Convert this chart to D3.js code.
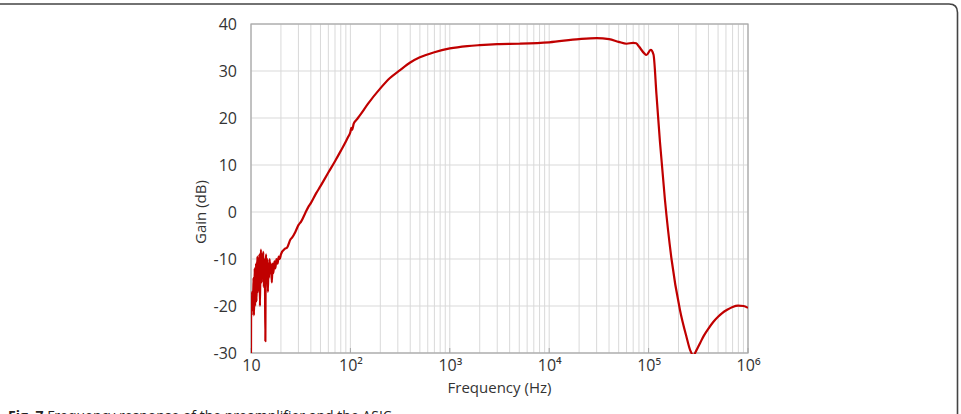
<!DOCTYPE html>
<html>
<head>
<meta charset="utf-8">
<script src="https://cdn.jsdelivr.net/npm/d3@7"></script>
<style>
  body { margin: 0; background: #fff; }
  svg { display: block; font-family: "Open Sans", "Noto Sans", sans-serif; }
</style>
</head>
<body>
<div id="chart-area"></div>
<script>
// Frequency (Hz) and gain (dB)
var freq = [10, 10.05, 10.15, 10.25, 10.35, 10.5, 10.6, 10.7, 10.8, 10.9,
    11.0, 11.1, 11.25, 11.35, 11.5, 11.6, 11.75, 11.9, 12.0, 12.15,
    12.3, 12.45, 12.6, 12.8, 12.95, 13.1, 13.3, 13.45, 13.6, 13.8,
    13.95, 14.05, 14.2, 14.4, 14.6, 14.8, 15.0, 15.2, 15.4, 15.6,
    15.9, 16.2, 16.5, 16.8, 17.2, 17.6, 18.0, 18.5, 19.0, 19.5,
    20, 22, 23, 25, 26, 28, 30, 32, 35, 38,
    40, 45, 50, 60, 70, 80, 90, 95, 100, 102, 104, 108, 115,
    125, 150, 200, 250, 316, 400, 500, 700, 1000, 1500,
    2000, 3000, 5000, 10000, 20000, 30000, 40000, 50000, 60000, 70000,
    75000, 80000, 90000, 95000, 105000, 112000, 120000, 130000, 146000, 170000,
    207000, 240000, 263000, 282000, 300000, 331000, 360000, 400000, 447000, 500000,
    550000, 617000, 700000, 794000, 900000, 1000000];
var gain = [-30, -18, -22, -17, -21, -19, -14, -22, -18, -12,
    -20, -15, -11, -19, -13, -9.5, -17, -10, -14, -9,
    -20, -11, -8, -15, -9, -12, -8.5, -16, -10, -13,
    -27.5, -11, -9, -15, -10, -17, -11, -14, -10, -13,
    -11, -15, -11, -13, -10.5, -12, -10, -11, -9.5, -10,
    -9, -7.8, -7.6, -5.8, -5.4, -4.2, -2.8, -2.0, -0.3, 1.2,
    1.9, 3.9, 5.5, 8.4, 10.8, 13.0, 15.0, 16.0, 17.0, 17.9, 17.5, 18.8, 19.6,
    20.6, 23.0, 26.3, 28.5, 30.2, 31.8, 32.9, 34.0, 34.8, 35.3,
    35.5, 35.7, 35.8, 36.1, 36.8, 37.0, 36.8, 36.2, 35.8, 36.0,
    35.9, 35.2, 33.8, 33.4, 34.5, 33.5, 25, 15, 2.6, -10,
    -20.9, -26.5, -29.5, -30.5, -29.6, -27.8, -26.3, -24.8, -23.4, -22.3,
    -21.5, -20.8, -20.2, -19.9, -20.0, -20.4];

var yTicks = [-30, -20, -10, 0, 10, 20, 30, 40];
var xTicks = [10, 100, 1000, 10000, 100000, 1000000];
var xTickLabels = ["10", "10²", "10³", "10⁴", "10⁵", "10⁶"];

var data = freq.map(function(f, i) { return { f: f, g: gain[i] }; });

var margin = { left: 251, right: 213, top: 24, bottom: 61 },
    width = 961 - margin.left - margin.right,
    height = 414 - margin.top - margin.bottom;

var svg = d3.select("#chart-area").append("svg")
    .attr("width", 961)
    .attr("height", 414);

// Frame round the figure
svg.append("path")
    .attr("d", "M-10,4 H949 Q957.5,4 957.5,12.5 V420")
    .attr("fill", "none")
    .attr("stroke", "#444")
    .attr("stroke-width", 1.6);

// Caption (cut off at the bottom, as in the source)
var cap = svg.append("text")
    .attr("x", 8)
    .attr("y", 421)
    .attr("font-size", 14)
    .attr("fill", "#222");
cap.append("tspan").attr("font-weight", "bold").text("Fig. 7 ");
cap.append("tspan").text("Frequency response of the preamplifier and the ASIC");

var g = svg.append("g")
    .attr("transform", "translate(" + margin.left + "," + margin.top + ")");

// Scales
var x = d3.scaleLog().domain([10, 1e6]).range([0, width]);
var y = d3.scaleLinear().domain([-30, 40]).range([height, 0]);

// Grid
var minor = [];
for (var d = 10; d < 1e6; d *= 10) {
    for (var k = 2; k <= 9; k++) minor.push(d * k);
}
g.selectAll(".vgrid")
    .data(minor.concat(xTicks))
    .enter().append("line")
    .attr("class", "vgrid")
    .attr("x1", function(d) { return x(d); })
    .attr("x2", function(d) { return x(d); })
    .attr("y1", 0)
    .attr("y2", height)
    .attr("stroke", "#d9d9d9")
    .attr("stroke-width", 1);

g.selectAll(".hgrid")
    .data(yTicks)
    .enter().append("line")
    .attr("class", "hgrid")
    .attr("x1", 0)
    .attr("x2", width)
    .attr("y1", function(d) { return y(d); })
    .attr("y2", function(d) { return y(d); })
    .attr("stroke", "#d9d9d9")
    .attr("stroke-width", 1);

// Plot border
g.append("rect")
    .attr("width", width)
    .attr("height", height)
    .attr("fill", "none")
    .attr("stroke", "#a6a6a6")
    .attr("stroke-width", 1.2);

// Axes
var xAxisCall = d3.axisBottom(x)
    .tickValues(xTicks)
    .tickSize(0)
    .tickPadding(7)
    .tickFormat(function(d, i) { return xTickLabels[i]; });
var yAxisCall = d3.axisLeft(y)
    .tickValues(yTicks)
    .tickSize(0)
    .tickPadding(14)
    .tickFormat(function(d) { return String(d); });

var xAxis = g.append("g")
    .attr("class", "x axis")
    .attr("transform", "translate(0," + height + ")")
    .call(xAxisCall);
var yAxis = g.append("g")
    .attr("class", "y axis")
    .call(yAxisCall);

svg.selectAll(".axis .domain").remove();
svg.selectAll(".axis text")
    .attr("font-family", "'Open Sans', sans-serif")
    .attr("font-size", 16)
    .attr("fill", "#333");

// Major tick marks at the decades
g.selectAll(".xtick")
    .data(xTicks)
    .enter().append("line")
    .attr("x1", function(d) { return x(d); })
    .attr("x2", function(d) { return x(d); })
    .attr("y1", height - 5)
    .attr("y2", height)
    .attr("stroke", "#a6a6a6");

// Axis titles
g.append("text")
    .attr("x", width / 2)
    .attr("y", height + 40)
    .attr("text-anchor", "middle")
    .attr("font-size", 15)
    .attr("fill", "#333")
    .text("Frequency (Hz)");

g.append("text")
    .attr("transform", "rotate(-90)")
    .attr("x", -y(0))
    .attr("y", -45)
    .attr("text-anchor", "middle")
    .attr("font-size", 15)
    .attr("fill", "#333")
    .text("Gain (dB)");

// Line
g.append("clipPath").attr("id", "clip")
    .append("rect").attr("width", width).attr("height", height + 1);

var line = d3.line()
    .x(function(d) { return x(d.f); })
    .y(function(d) { return y(d.g); })
    .curve(d3.curveMonotoneX);

g.append("path")
    .attr("clip-path", "url(#clip)")
    .attr("d", line(data))
    .attr("fill", "none")
    .attr("stroke", "#c00000")
    .attr("stroke-width", 2.2)
    .attr("stroke-linejoin", "round");
</script>
</body>
</html>
